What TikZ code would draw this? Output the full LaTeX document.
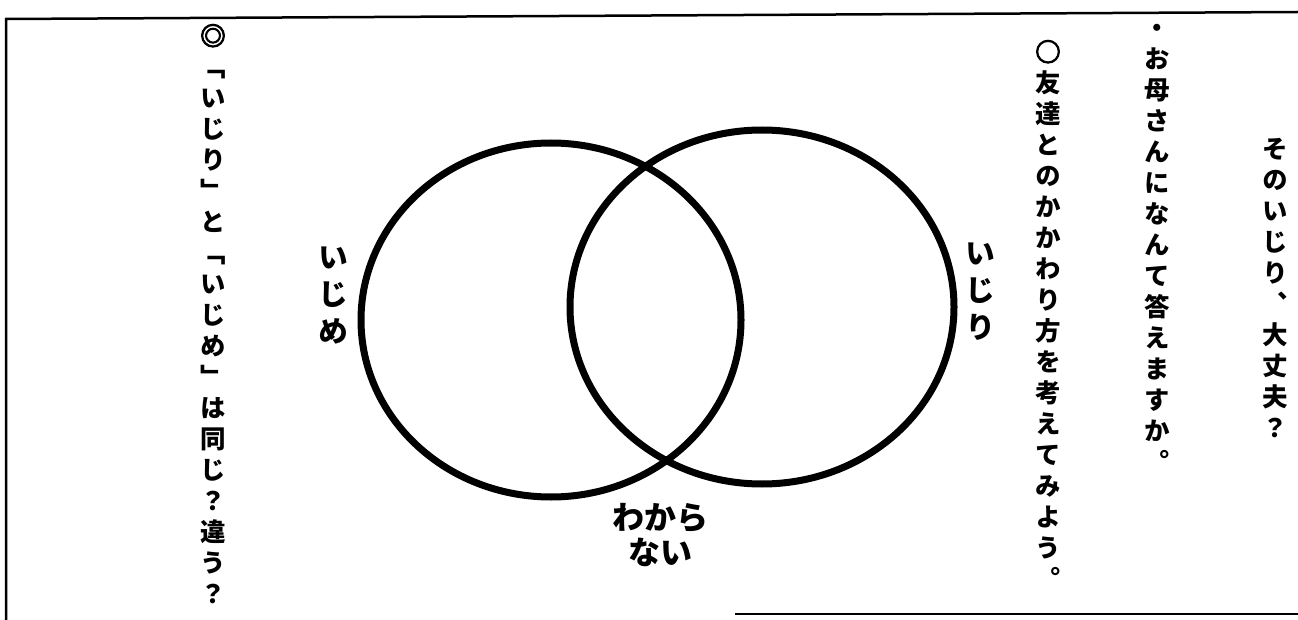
\documentclass[tikz,border=0pt]{standalone}
\usepackage{fontspec}
\newfontfamily\tatefont[RawFeature=+vert]{Noto Sans CJK JP}
\newfontfamily\yokofont{Noto Sans CJK JP}
\newfontfamily\markfont[FakeBold=4]{Noto Sans CJK JP}
\usetikzlibrary{positioning,shapes.geometric}
\tikzset{
  frameline/.style={draw=black, line width=2.5pt},
  ring/.style={draw=black, line width=7pt, ellipse, inner sep=0pt, fill=none},
  tate/.style={align=center, inner sep=0pt, anchor=north,
               font=\tatefont\bfseries\fontsize{25.5}{31}\selectfont},
  setlabel/.style={align=center, inner sep=0pt,
                   font=\tatefont\bfseries\fontsize{30}{37}\selectfont},
  yoko/.style={align=center, inner sep=0pt,
               font=\yokofont\bfseries\fontsize{32}{35}\selectfont},
}
\newcommand{\heavy}[1]{{\markfont #1}}
\begin{document}
\begin{tikzpicture}[x=1pt, y=-1pt]
  \useasboundingbox (0,0) rectangle (1298,620);
  % frame
  \draw[frameline] (6,620) -- (6,19) -- (1298,12);
  \draw[frameline] (735,614) -- (1298,614);
  % venn
  \node[ring, minimum width=380, minimum height=354] (ijime) at (551,320) {};
  \node[ring, minimum width=384, minimum height=354] (ijiri) at (762,307) {};
  \node[setlabel] (ijimelab) at (333,296) {い\\じ\\め};
  \node[setlabel] (ijirilab) at (980,292) {い\\じ\\り};
  \node[yoko] (wakaranai) at (660,535) {わから\\ない};
  % columns
  \node[tate] (question) at (213,24) {\heavy{◎}\\「\\い\\じ\\り\\」\\と\\「\\い\\じ\\め\\」\\は\\同\\じ\\？\\違\\う\\？};
  \node[tate] (tomodachi) at (1048,40) {\heavy{○}\\友\\達\\と\\の\\か\\か\\わ\\り\\方\\を\\考\\え\\て\\み\\よ\\う\\。};
  \node[tate] (okaasan) at (1157,24) {・\\お\\母\\さ\\ん\\に\\な\\ん\\て\\答\\え\\ま\\す\\か\\。};
  \node[tate] (daijoubu) at (1275,138) {そ\\の\\い\\じ\\り\\、\\大\\丈\\夫\\？};
\end{tikzpicture}
\end{document}
